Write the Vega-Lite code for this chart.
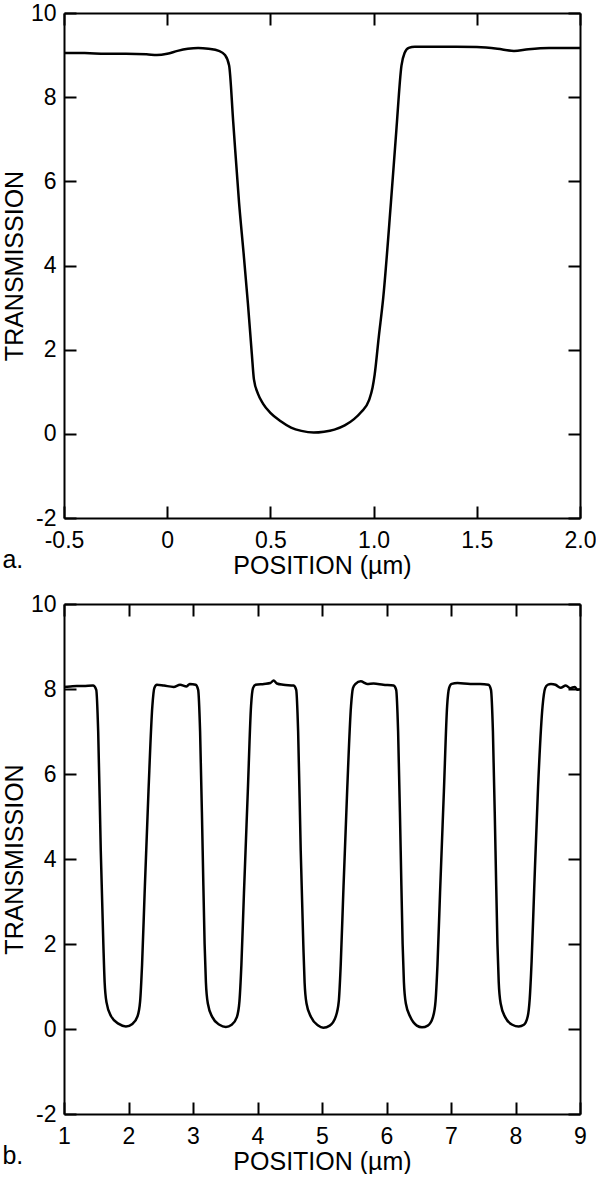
{
  "$schema": "https://vega.github.io/schema/vega-lite/v6.json",
  "background": "white",
  "padding": {"left": 2, "top": 2, "right": 0, "bottom": 0},
  "spacing": 15,
  "config": {
    "font": "Liberation Sans",
    "view": {"stroke": null},
    "axis": {
      "grid": false,
      "domainColor": "black",
      "domainWidth": 2,
      "tickColor": "black",
      "tickWidth": 2,
      "tickSize": -12,
      "labelFont": "Liberation Sans",
      "labelFontSize": 23,
      "labelColor": "black",
      "labelFlush": false,
      "labelOverlap": false,
      "titleFont": "Liberation Sans",
      "titleFontSize": 25,
      "titleFontWeight": "normal",
      "titleColor": "black"
    },
    "title": {"font": "Liberation Sans", "fontSize": 25, "fontWeight": "normal", "color": "black"}
  },
  "vconcat": [
    {
      "width": 516,
      "height": 505,
      "title": {"text": "a.", "orient": "bottom", "anchor": "start", "frame": "bounds", "offset": -30},
      "data": {"values": [
        {"x": -0.5, "t": 9.05}, {"x": -0.4, "t": 9.05}, {"x": -0.3, "t": 9.03}, {"x": -0.2, "t": 9.03},
        {"x": -0.1, "t": 9.02}, {"x": -0.05, "t": 9.0}, {"x": 0.0, "t": 9.03}, {"x": 0.05, "t": 9.1},
        {"x": 0.1, "t": 9.15}, {"x": 0.15, "t": 9.17}, {"x": 0.2, "t": 9.15}, {"x": 0.25, "t": 9.1},
        {"x": 0.28, "t": 9.0}, {"x": 0.3, "t": 8.75}, {"x": 0.32, "t": 7.4}, {"x": 0.348, "t": 5.5},
        {"x": 0.37, "t": 4.3}, {"x": 0.391, "t": 3.1}, {"x": 0.41, "t": 1.9}, {"x": 0.42, "t": 1.3},
        {"x": 0.44, "t": 0.95}, {"x": 0.464, "t": 0.72}, {"x": 0.5, "t": 0.5}, {"x": 0.55, "t": 0.3},
        {"x": 0.6, "t": 0.15}, {"x": 0.65, "t": 0.07}, {"x": 0.71, "t": 0.03}, {"x": 0.76, "t": 0.05},
        {"x": 0.81, "t": 0.1}, {"x": 0.86, "t": 0.2}, {"x": 0.905, "t": 0.35}, {"x": 0.94, "t": 0.52},
        {"x": 0.978, "t": 0.8}, {"x": 0.995, "t": 1.1}, {"x": 1.005, "t": 1.4}, {"x": 1.025, "t": 2.3},
        {"x": 1.046, "t": 3.2}, {"x": 1.084, "t": 5.5}, {"x": 1.11, "t": 7.2}, {"x": 1.135, "t": 8.75},
        {"x": 1.15, "t": 9.05}, {"x": 1.17, "t": 9.17}, {"x": 1.2, "t": 9.2}, {"x": 1.3, "t": 9.2},
        {"x": 1.4, "t": 9.2}, {"x": 1.5, "t": 9.19}, {"x": 1.6, "t": 9.15}, {"x": 1.68, "t": 9.1},
        {"x": 1.75, "t": 9.14}, {"x": 1.85, "t": 9.17}, {"x": 1.95, "t": 9.17}, {"x": 2.0, "t": 9.17}
      ]},
      "layer": [
        {
          "mark": {"type": "line", "color": "black", "strokeWidth": 2.5, "interpolate": "monotone"},
          "encoding": {
            "x": {"field": "x", "type": "quantitative", "scale": {"domain": [-0.5, 2.0], "nice": false, "zero": false},
              "axis": {"orient": "bottom", "values": [-0.5, 0, 0.5, 1, 1.5, 2], "labelPadding": 23, "titlePadding": 1,
                "labelExpr": "datum.value == 0 ? '0' : (datum.value < 0 ? '-' : '') + format(abs(datum.value), '.1f')", "title": "POSITION (µm)"}},
            "y": {"field": "t", "type": "quantitative", "scale": {"domain": [-2, 10], "nice": false, "zero": false},
              "axis": {"orient": "left", "values": [-2, 0, 2, 4, 6, 8, 10], "labelPadding": 20, "titlePadding": 3,
                "labelExpr": "(datum.value < 0 ? '-' : '') + abs(datum.value)", "title": "TRANSMISSION"}}
          }
        },
        {
          "mark": {"type": "line", "opacity": 0},
          "encoding": {
            "x": {"field": "x", "type": "quantitative", "scale": {"domain": [-0.5, 2.0], "nice": false, "zero": false},
              "axis": {"orient": "top", "values": [-0.5, 0, 0.5, 1, 1.5, 2], "labels": false, "title": null}},
            "y": {"field": "t", "type": "quantitative", "scale": {"domain": [-2, 10], "nice": false, "zero": false},
              "axis": {"orient": "right", "values": [-2, 0, 2, 4, 6, 8, 10], "labels": false, "title": null}}
          }
        }
      ],
      "resolve": {"axis": {"x": "independent", "y": "independent"}}
    },
    {
      "width": 516,
      "height": 510,
      "title": {"text": "b.", "orient": "bottom", "anchor": "start", "frame": "bounds", "offset": -30},
      "data": {"values": [
        {"x": 1.0, "t": 8.05}, {"x": 1.1, "t": 8.06}, {"x": 1.2, "t": 8.07}, {"x": 1.3, "t": 8.07}, {"x": 1.45, "t": 8.08},
        {"x": 1.5, "t": 7.98}, {"x": 1.53, "t": 7.0}, {"x": 1.57, "t": 4.2}, {"x": 1.61, "t": 2.0}, {"x": 1.63, "t": 1.1},
        {"x": 1.66, "t": 0.62}, {"x": 1.73, "t": 0.3}, {"x": 1.85, "t": 0.12}, {"x": 1.96, "t": 0.06}, {"x": 2.06, "t": 0.12},
        {"x": 2.14, "t": 0.3}, {"x": 2.18, "t": 0.65}, {"x": 2.21, "t": 1.5}, {"x": 2.25, "t": 3.2}, {"x": 2.31, "t": 5.6},
        {"x": 2.37, "t": 7.6}, {"x": 2.4, "t": 8.02}, {"x": 2.44, "t": 8.1},
        {"x": 2.55, "t": 8.08}, {"x": 2.7, "t": 8.05}, {"x": 2.8, "t": 8.1}, {"x": 2.9, "t": 8.06}, {"x": 2.95, "t": 8.12}, {"x": 3.04, "t": 8.1},
        {"x": 3.08, "t": 7.98}, {"x": 3.11, "t": 7.0}, {"x": 3.15, "t": 4.2}, {"x": 3.18, "t": 2.0}, {"x": 3.2, "t": 1.1},
        {"x": 3.23, "t": 0.6}, {"x": 3.3, "t": 0.28}, {"x": 3.41, "t": 0.1}, {"x": 3.51, "t": 0.05}, {"x": 3.6, "t": 0.1},
        {"x": 3.68, "t": 0.28}, {"x": 3.72, "t": 0.65}, {"x": 3.75, "t": 1.5}, {"x": 3.79, "t": 3.2}, {"x": 3.85, "t": 5.6},
        {"x": 3.9, "t": 7.6}, {"x": 3.93, "t": 8.02}, {"x": 3.97, "t": 8.1},
        {"x": 4.1, "t": 8.12}, {"x": 4.2, "t": 8.14}, {"x": 4.25, "t": 8.2}, {"x": 4.3, "t": 8.13}, {"x": 4.4, "t": 8.1}, {"x": 4.56, "t": 8.08},
        {"x": 4.6, "t": 7.98}, {"x": 4.63, "t": 7.0}, {"x": 4.67, "t": 4.2}, {"x": 4.71, "t": 2.0}, {"x": 4.73, "t": 1.1},
        {"x": 4.76, "t": 0.6}, {"x": 4.83, "t": 0.28}, {"x": 4.94, "t": 0.08}, {"x": 5.02, "t": 0.03}, {"x": 5.12, "t": 0.08},
        {"x": 5.21, "t": 0.28}, {"x": 5.26, "t": 0.65}, {"x": 5.29, "t": 1.5}, {"x": 5.33, "t": 3.2}, {"x": 5.39, "t": 5.6},
        {"x": 5.45, "t": 7.6}, {"x": 5.48, "t": 8.02}, {"x": 5.52, "t": 8.12},
        {"x": 5.6, "t": 8.18}, {"x": 5.7, "t": 8.12}, {"x": 5.8, "t": 8.13}, {"x": 5.95, "t": 8.1}, {"x": 6.11, "t": 8.08},
        {"x": 6.15, "t": 7.98}, {"x": 6.18, "t": 7.0}, {"x": 6.22, "t": 4.2}, {"x": 6.25, "t": 2.0}, {"x": 6.27, "t": 1.1},
        {"x": 6.3, "t": 0.6}, {"x": 6.37, "t": 0.28}, {"x": 6.47, "t": 0.08}, {"x": 6.55, "t": 0.04}, {"x": 6.64, "t": 0.08},
        {"x": 6.72, "t": 0.28}, {"x": 6.76, "t": 0.65}, {"x": 6.79, "t": 1.5}, {"x": 6.83, "t": 3.2}, {"x": 6.89, "t": 5.6},
        {"x": 6.94, "t": 7.6}, {"x": 6.97, "t": 8.02}, {"x": 7.01, "t": 8.12},
        {"x": 7.1, "t": 8.14}, {"x": 7.3, "t": 8.12}, {"x": 7.45, "t": 8.12}, {"x": 7.58, "t": 8.1},
        {"x": 7.62, "t": 7.98}, {"x": 7.65, "t": 7.0}, {"x": 7.69, "t": 4.2}, {"x": 7.72, "t": 2.0}, {"x": 7.74, "t": 1.1},
        {"x": 7.77, "t": 0.6}, {"x": 7.84, "t": 0.28}, {"x": 7.95, "t": 0.1}, {"x": 8.05, "t": 0.06}, {"x": 8.13, "t": 0.1},
        {"x": 8.19, "t": 0.3}, {"x": 8.22, "t": 0.7}, {"x": 8.25, "t": 1.6}, {"x": 8.29, "t": 3.3}, {"x": 8.35, "t": 5.7},
        {"x": 8.42, "t": 7.6}, {"x": 8.46, "t": 8.02}, {"x": 8.5, "t": 8.1},
        {"x": 8.55, "t": 8.12}, {"x": 8.62, "t": 8.1}, {"x": 8.7, "t": 8.03}, {"x": 8.78, "t": 8.08}, {"x": 8.85, "t": 8.02},
        {"x": 8.92, "t": 8.05}, {"x": 8.96, "t": 7.98}, {"x": 9.0, "t": 8.0}
      ]},
      "layer": [
        {
          "mark": {"type": "line", "color": "black", "strokeWidth": 2.5, "interpolate": "monotone"},
          "encoding": {
            "x": {"field": "x", "type": "quantitative", "scale": {"domain": [1, 9], "nice": false, "zero": false},
              "axis": {"orient": "bottom", "values": [1, 2, 3, 4, 5, 6, 7, 8, 9], "labelPadding": 23, "titlePadding": 1, "title": "POSITION (µm)"}},
            "y": {"field": "t", "type": "quantitative", "scale": {"domain": [-2, 10], "nice": false, "zero": false},
              "axis": {"orient": "left", "values": [-2, 0, 2, 4, 6, 8, 10], "labelPadding": 20, "titlePadding": 3,
                "labelExpr": "(datum.value < 0 ? '-' : '') + abs(datum.value)", "title": "TRANSMISSION"}}
          }
        },
        {
          "mark": {"type": "line", "opacity": 0},
          "encoding": {
            "x": {"field": "x", "type": "quantitative", "scale": {"domain": [1, 9], "nice": false, "zero": false},
              "axis": {"orient": "top", "values": [1, 2, 3, 4, 5, 6, 7, 8, 9], "labels": false, "title": null}},
            "y": {"field": "t", "type": "quantitative", "scale": {"domain": [-2, 10], "nice": false, "zero": false},
              "axis": {"orient": "right", "values": [-2, 0, 2, 4, 6, 8, 10], "labels": false, "title": null}}
          }
        }
      ],
      "resolve": {"axis": {"x": "independent", "y": "independent"}}
    }
  ]
}
